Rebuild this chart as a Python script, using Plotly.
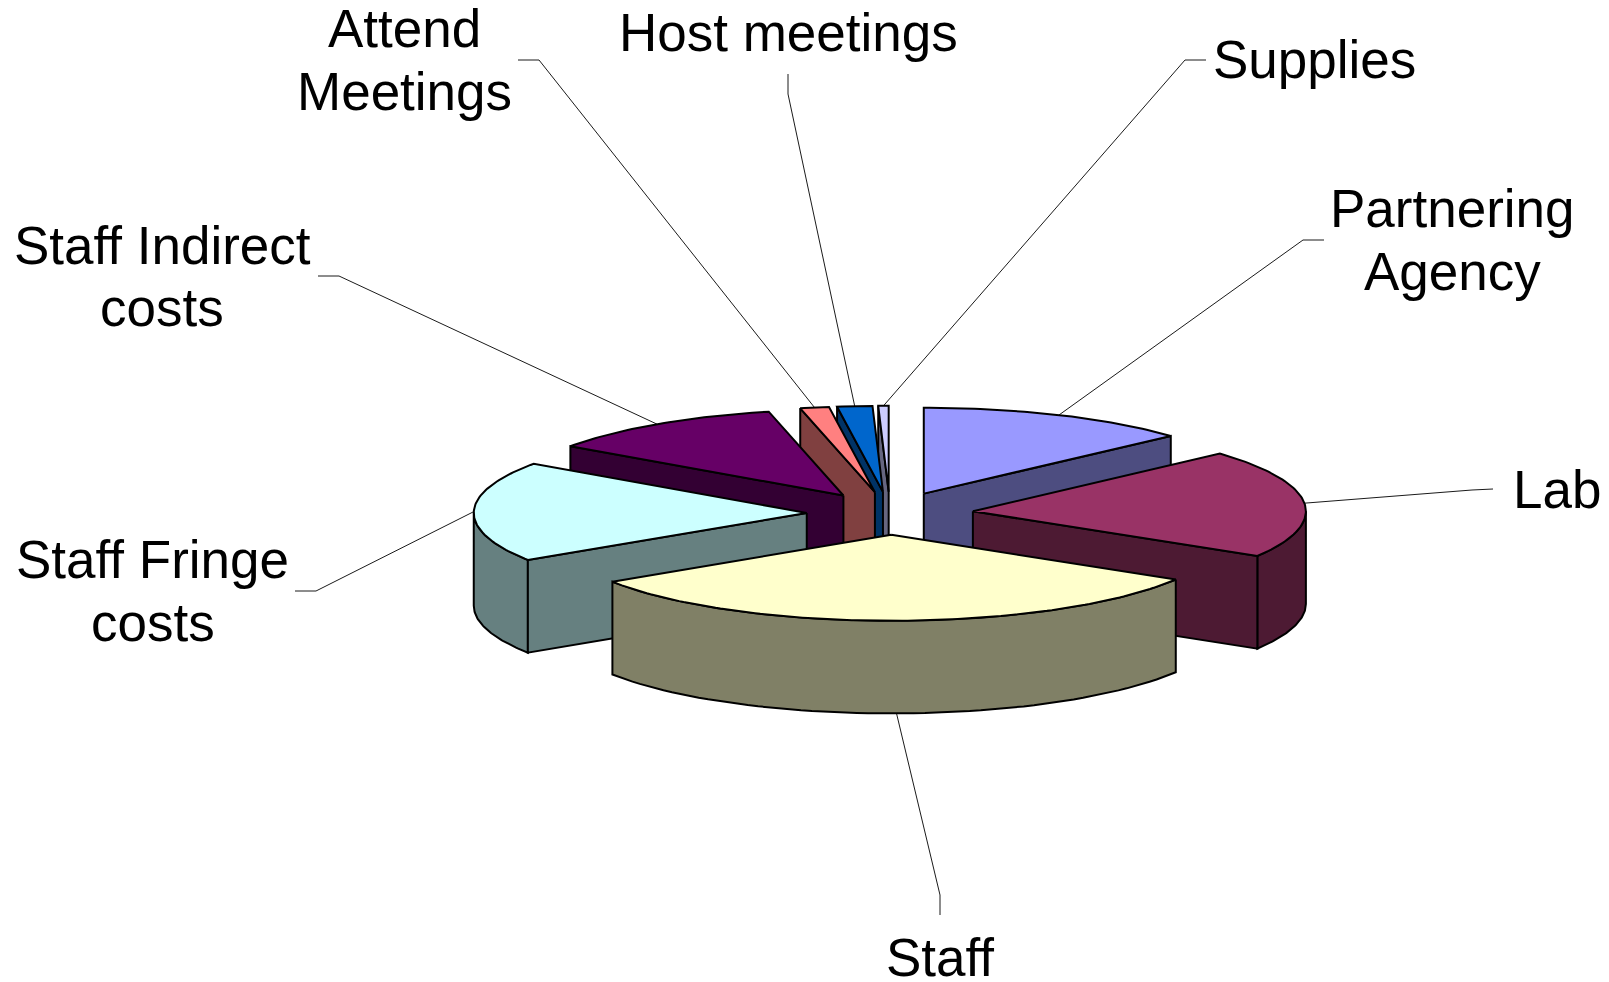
import numpy as np
import plotly.graph_objects as go

# ---- data (share of budget, %) ----
categories = ["Partnering Agency", "Lab", "Staff", "Staff Fringe costs",
              "Staff Indirect costs", "Attend Meetings", "Host meetings", "Supplies"]
values = [13.3, 20.4, 32.1, 18.9, 11.7, 1.4, 1.7, 0.5]
label_lines = [["Partnering", "Agency"], ["Lab"], ["Staff"], ["Staff Fringe", "costs"],
               ["Staff Indirect", "costs"], ["Attend", "Meetings"], ["Host meetings"], ["Supplies"]]

# ---- styles ----
top_colors = ["#9999FF", "#993366", "#FFFFCC", "#CCFFFF", "#660066", "#FF8080", "#0066CC", "#CCCCFF"]
side_colors = ["#4D4D80", "#4D1A33", "#808066", "#668080", "#330033", "#804040", "#003366", "#666680"]

# ---- layout (page pixels) ----
W, H = 1609, 982
CX, CY, RX, RY, DEPTH_PX = 890.0, 513.3, 333.0, 86.0, 92.7
EXPLODE = 0.25
FONT_PX = 53
DEPTH = DEPTH_PX / RY
label_centres = [[(1452, 208), (1452, 271)], [(1557, 489)], [(940, 957)],
                 [(152.5, 559.5), (152.5, 622)], [(162, 245), (162, 307.5)],
                 [(404, 28), (404, 91)], [(788, 32)], [(1314, 59)]]
leader_outer = [[(1324, 240), (1303, 240)], [(1493, 489), (1472, 490)], [(940, 915), (940, 895)],
                [(295, 591), (316, 591)], [(318, 276), (339, 276)],
                [(518, 60), (539, 60)], [(788, 74), (788, 94)], [(1206, 60), (1185, 60)]]


def ux(px):
    return (px - CX) / RX


def uy(py):
    return (CY - py) / RY


def pt(apex, t, z=0.0):
    """Point on a slice rim at pie angle t, lowered by z."""
    return apex[0] + np.sin(t), apex[1] + np.cos(t) - z


edges = np.deg2rad(np.concatenate([[0], np.cumsum(values)]) * 3.6)
fig = go.Figure()


def leader(i, apex, mid):
    x, y = pt(apex, mid, DEPTH if np.cos(mid) < 0 else 0.0)
    xs = [ux(p[0]) for p in leader_outer[i]] + [x]
    ys = [uy(p[1]) for p in leader_outer[i]] + [y]
    fig.add_trace(go.Scatter(x=xs, y=ys, mode="lines", line=dict(color="#000000", width=0.9),
                             hoverinfo="skip", showlegend=False))


def poly(xs, ys, fill, name):
    fig.add_trace(go.Scatter(x=list(xs) + [xs[0]], y=list(ys) + [ys[0]], mode="lines", fill="toself",
                             fillcolor=fill, line=dict(color="#000000", width=2),
                             name=name, hoverinfo="name", showlegend=False))


apexes, mids = [], []
for i in range(len(values)):
    m = (edges[i] + edges[i + 1]) / 2
    mids.append(m)
    apexes.append((EXPLODE * np.sin(m), EXPLODE * np.cos(m)))

for i in range(len(values)):
    leader(i, apexes[i], mids[i])

for i in sorted(range(len(values)), key=lambda k: -np.cos(mids[k])):
    t0, t1 = edges[i], edges[i + 1]
    a = apexes[i]
    name = categories[i]
    # outer wall: only the part of the rim that faces the viewer
    lo, hi = max(t0, np.pi / 2), min(t1, 3 * np.pi / 2)
    if hi > lo:
        ts = np.linspace(lo, hi, 60)
        x1, y1 = pt(a, ts)
        x2, y2 = pt(a, ts[::-1], DEPTH)
        poly(np.r_[x1, x2], np.r_[y1, y2], side_colors[i], name)
    # cut faces that face the viewer
    for t, visible in ((t0, np.sin(t0) < -1e-9), (t1, np.sin(t1) > 1e-9)):
        if visible:
            ex, ey = pt(a, t)
            poly([a[0], ex, ex, a[0]], [a[1], ey, ey - DEPTH, a[1] - DEPTH], side_colors[i], name)
    # top face
    ts = np.linspace(t0, t1, max(8, int((t1 - t0) * 60)))
    x, y = pt(a, ts)
    poly(np.r_[a[0], x], np.r_[a[1], y], top_colors[i], name)

annotations = []
for lines, centres in zip(label_lines, label_centres):
    for text, (px, py) in zip(lines, centres):
        annotations.append(dict(x=ux(px), y=uy(py), xref="x", yref="y", text=text, showarrow=False,
                                xanchor="center", yanchor="middle",
                                font=dict(family="Liberation Sans, Arial, sans-serif", size=FONT_PX, color="#000000")))

fig.update_layout(
    width=W, height=H, margin=dict(l=0, r=0, t=0, b=0),
    paper_bgcolor="#FFFFFF", plot_bgcolor="#FFFFFF", showlegend=False,
    annotations=annotations,
    xaxis=dict(range=[ux(0), ux(W)], visible=False, fixedrange=True),
    yaxis=dict(range=[uy(H), uy(0)], visible=False, fixedrange=True),
)
fig.write_html("out.html", config={"displayModeBar": False},
               post_script="document.body.style.margin='0';document.body.style.overflow='hidden';")
